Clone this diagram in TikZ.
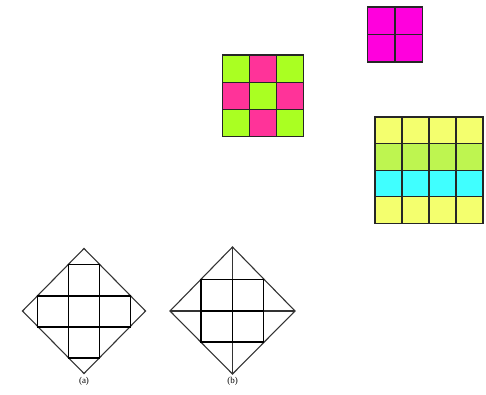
\documentclass[tikz,border=0pt]{standalone}
\usepackage{fontspec}
\setmainfont{Liberation Serif}
\definecolor{mag}{HTML}{FF00DD}
\definecolor{pinkc}{HTML}{FF3399}
\definecolor{limec}{HTML}{AAFF22}
\definecolor{yel}{HTML}{F4FF6E}
\definecolor{grn}{HTML}{BEF550}
\definecolor{cyn}{HTML}{40FFFF}
\tikzset{
  cell/.style={draw=black!85, line width=1.2pt},
  dia/.style={draw=black!80, line width=1.1pt},
  grid/.style={draw=black, line width=1.2pt},
  lab/.style={font=\fontsize{9}{10}\selectfont, inner sep=0pt}
}
\begin{document}
\begin{tikzpicture}[x=1pt,y=-1pt]
\useasboundingbox (0,0) rectangle (486,395);
% magenta 2x2
\foreach \i in {0,1}{\foreach \j in {0,1}{
  \path[cell, fill=mag] (367.5+27.5*\i,7+27.5*\j) rectangle ++(27.5,27.5);
}}
% 3x3 checker
\foreach \i in {0,1,2}{\foreach \j in {0,1,2}{
  \pgfmathtruncatemacro{\p}{mod(\i+\j,2)}
  \ifnum\p=0 \def\cc{limec}\else\def\cc{pinkc}\fi
  \path[cell, fill=\cc] (222.5+27*\i,55+27.2*\j) rectangle ++(27,27.2);
}}
% 4x4 rows
\foreach \j/\cc in {0/yel,1/grn,2/cyn,3/yel}{\foreach \i in {0,1,2,3}{
  \path[cell, fill=\cc] (375+27*\i,117+26.6*\j) rectangle ++(27,26.6);
}}
% diamond (a)
\draw[dia] (22.5,311) -- (84,248.5) -- (145.5,311) -- (84,373.5) -- cycle;
\draw[grid] (68.5,264.5) rectangle (99.5,358);
\draw[grid] (37.5,296) rectangle (130.5,327);
\node[lab] (la) at (84,381) {(a)};
% diamond (b)
\draw[dia] (170,311) -- (232.5,247) -- (295,311) -- (232.5,374) -- cycle;
\draw[dia] (170,311) -- (295,311) (232.5,247) -- (232.5,374);
\draw[grid] (201,279.5) rectangle (263.5,342);
\draw[grid] (201,311) -- (263.5,311) (232.5,279.5) -- (232.5,342);
\node[lab] (lb) at (232.5,381) {(b)};
\end{tikzpicture}
\end{document}
